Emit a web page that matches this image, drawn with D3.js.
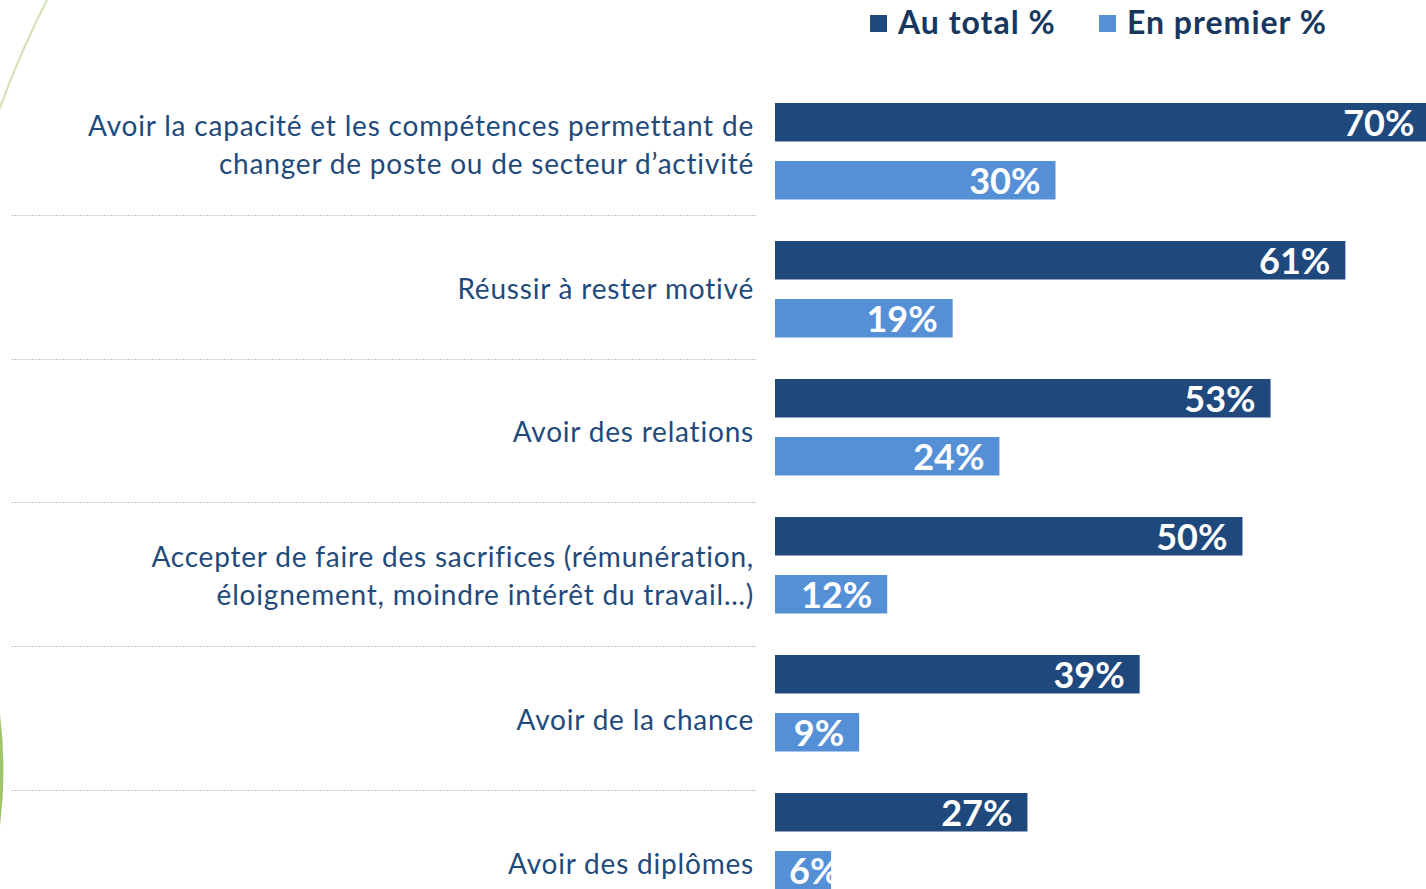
<!DOCTYPE html>
<html>
<head>
<meta charset="utf-8">
<script src="https://cdn.jsdelivr.net/npm/d3@7"></script>
<style>
  body { margin: 0; background: #fff; }
  svg { display: block; }
</style>
</head>
<body>
<div id="wrapper"></div>
<script>
// data
const categories = [
  ["Avoir la capacité et les compétences permettant de", "changer de poste ou de secteur d’activité"],
  ["Réussir à rester motivé"],
  ["Avoir des relations"],
  ["Accepter de faire des sacrifices (rémunération,", "éloignement, moindre intérêt du travail…)"],
  ["Avoir de la chance"],
  ["Avoir des diplômes"]
]
const auTotal = [70, 61, 53, 50, 39, 27]
const enPremier = [30, 19, 24, 12, 9, 6]
const seriesNames = ["Au total %", "En premier %"]
const colors = ["#1f497d", "#5590d7"]

const width = 1426
const height = 889

const svg = d3.select("#wrapper")
  .append("svg")
  .attr("width", width)
  .attr("height", height)

// decorative slide curves on the left edge
svg.append("path")
  .attr("d", "M48,-2 Q22,48 -1,110")
  .attr("fill", "none")
  .attr("stroke", "#d4e3b8")
  .attr("stroke-width", 2.2)

svg.append("path")
  .attr("d", "M-2,700 Q9,770 -2,840 Z")
  .attr("fill", "#a2c46a")

// scales
const x = d3.scaleLinear().domain([0, 100]).range([775, 775 + 935])

const idx = d3.range(categories.length)

// bars sit on their own band
const barBand = d3.scaleBand().domain(idx).range([103, 103 + 138 * 6])
// labels + separators are on a slightly wider step
const labelBand = d3.scaleBand().domain(idx).range([71, 71 + 143.8 * 6])

const barH = 38.5
const offsets = [0, 58]

// separators
svg.append("g")
  .selectAll("line")
  .data(idx.slice(1))
  .join("line")
  .attr("x1", 11)
  .attr("x2", 756)
  .attr("y1", (d) => Math.round(labelBand(d)) + 0.5)
  .attr("y2", (d) => Math.round(labelBand(d)) + 0.5)
  .attr("stroke", "#c8c8c8")
  .attr("stroke-width", 1)
  .attr("stroke-dasharray", "2,1")

// category labels
const labels = svg.append("g")
  .attr("font-family", "Lato, 'Open Sans', sans-serif")
  .attr("font-size", 28)
  .attr("letter-spacing", 0.8)
  .attr("fill", "#1f4a7c")
  .attr("text-anchor", "end")

labels.selectAll("text")
  .data(idx)
  .join("text")
  .each(function (d) {
    const lines = categories[d]
    const lh = 38
    const cy = labelBand(d) + labelBand.bandwidth() / 2 + 2
    const top = -(lines.length - 1) * lh / 2
    d3.select(this).selectAll("tspan")
      .data(lines)
      .join("tspan")
      .attr("x", 754)
      .attr("y", (l, i) => cy + top + i * lh)
      .attr("dy", "0.35em")
      .text((l) => l)
  })

// bars
const series = [auTotal, enPremier]
series.forEach((values, s) => {
  const g = svg.append("g")
  g.selectAll("rect")
    .data(idx)
    .join("rect")
    .attr("x", x(0))
    .attr("y", (d) => barBand(d) + offsets[s])
    .attr("width", (d) => x(values[d]) - x(0))
    .attr("height", barH)
    .attr("fill", colors[s])

  g.selectAll("text")
    .data(idx)
    .join("text")
    .attr("font-family", "Lato, 'Open Sans', sans-serif")
    .attr("font-weight", "bold")
    .attr("font-size", 36)
    .attr("fill", "#fff")
    .attr("text-anchor", "end")
    .attr("y", (d) => barBand(d) + offsets[s] + barH / 2 + 14)
    .text((d) => values[d] + "%")
    .attr("x", function (d) {
      const w = this.getComputedTextLength()
      return Math.max(x(values[d]) - 15, x(0) + 14 + w)
    })
})

// legend
const legend = svg.append("g")
  .attr("font-family", "Lato, 'Open Sans', sans-serif")
  .attr("font-weight", "bold")
  .attr("font-size", 32)
  .attr("letter-spacing", 1)
  .attr("fill", "#17375e")

const legendX = [870, 1099]
seriesNames.forEach((name, i) => {
  legend.append("rect")
    .attr("x", legendX[i])
    .attr("y", 15)
    .attr("width", 17)
    .attr("height", 17)
    .attr("fill", colors[i])
  legend.append("text")
    .attr("x", legendX[i] + 28)
    .attr("y", 34)
    .text(name)
})
</script>
</body>
</html>
